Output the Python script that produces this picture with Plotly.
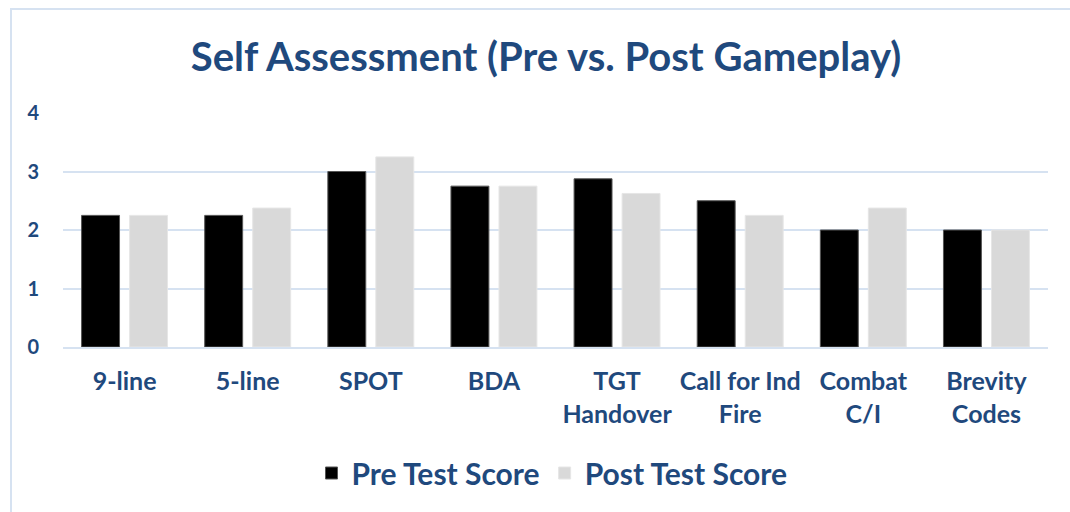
import plotly.graph_objects as go

categories = ["9-line", "5-line", "SPOT", "BDA", "TGT<br>Handover", "Call for Ind<br>Fire", "Combat<br>C/I", "Brevity<br>Codes"]
pre_scores = [2.25, 2.25, 3.0, 2.75, 2.875, 2.5, 2.0, 2.0]
post_scores = [2.25, 2.375, 3.25, 2.75, 2.625, 2.25, 2.375, 2.0]
y_ticks = [0, 1, 2, 3, 4]

BLUE = "#1F497D"
GRID = "#D6E2F1"
FONT = "Lato"

W, H = 1070, 512
ML, MR, MT, MB = 63, 22, 113, 165
PW, PH = W - ML - MR, H - MT - MB

fig = go.Figure()
fig.add_trace(go.Bar(x=categories, y=pre_scores, name="Pre Test Score",
                     marker=dict(color="#000000", line=dict(color="#555555", width=1))))
fig.add_trace(go.Bar(x=categories, y=post_scores, name="Post Test Score",
                     marker=dict(color="#D9D9D9", line=dict(color="#E6E6E6", width=1))))

def px_x(p):
    return (p - ML) / PW

def px_y(p):
    return (H - p - MB) / PH

fig.update_layout(
    width=W, height=H,
    margin=dict(l=ML, r=MR, t=MT, b=MB, autoexpand=False),
    paper_bgcolor="white", plot_bgcolor="white",
    barmode="group", bargap=0.22, bargroupgap=0.21,
    title=dict(text="<b>Self Assessment (Pre vs. Post Gameplay)</b>",
               x=px_x(546), xref="paper", xanchor="center", y=1 - 57 / H, yanchor="middle",
               font=dict(family=FONT, size=40, color=BLUE)),
    font=dict(family=FONT, color=BLUE),
    legend=dict(orientation="h", x=px_x(552), xanchor="center", xref="paper",
                y=px_y(473), yanchor="middle",
                font=dict(family=FONT, size=30, color=BLUE, weight="bold"),
                itemwidth=30, traceorder="normal"),
    shapes=[dict(type="rect", xref="paper", yref="paper",
                 x0=px_x(11), x1=px_x(1085), y0=px_y(525), y1=px_y(9),
                 line=dict(color=GRID, width=2), fillcolor="rgba(0,0,0,0)", layer="below")],
)
fig.update_xaxes(showgrid=False, showline=True, linecolor=GRID, linewidth=2,
                 tickfont=dict(family=FONT, size=25, color=BLUE, weight="bold"), ticks="",
                 ticklabelstandoff=11)
fig.update_yaxes(range=[0, 4], tickvals=y_ticks, showgrid=True, gridcolor=GRID, gridwidth=2,
                 zeroline=False, showline=False, ticks="",
                 tickfont=dict(family=FONT, size=20, color=BLUE, weight="bold"), ticklabelstandoff=23)

fig.write_html("out.html", config={"displayModeBar": False},
               post_script="document.body.style.margin='0px';")
